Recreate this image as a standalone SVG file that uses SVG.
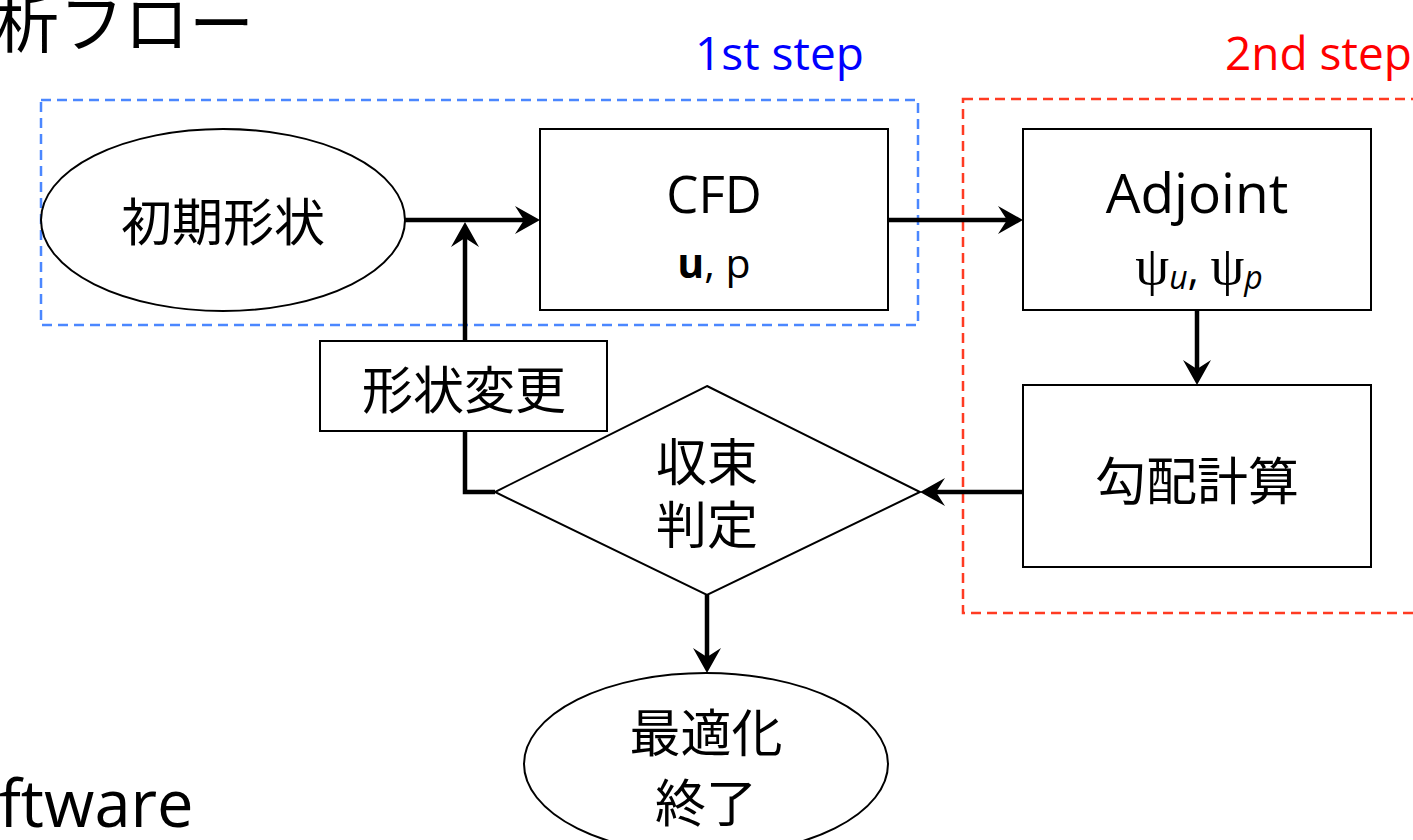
<svg xmlns="http://www.w3.org/2000/svg" width="1413" height="840" viewBox="0 0 1413 840">
<style>
.shape{fill:#fff;stroke:#000;stroke-width:2}
.conn{fill:none;stroke:#000;stroke-width:4.5}
.jp{font-family:"Noto Sans CJK JP","Noto Sans",sans-serif;font-size:51px;fill:#000;text-anchor:middle}
.lat{font-family:"Open Sans","Liberation Sans",sans-serif;fill:#000}
.frame{fill:none;stroke-width:2.5;stroke-dasharray:10 6}
</style>
<defs>
<marker id="ah" markerUnits="userSpaceOnUse" markerWidth="28" markerHeight="30" refX="9" refY="14" orient="auto" overflow="visible">
<path d="M0,0 L25,14 L0,28 L9,14 Z" fill="#000"/>
</marker>
</defs>
<rect width="1413" height="840" fill="#fff"/>
<g id="title">
<text x="-6" y="47" font-family="Noto Sans CJK JP, sans-serif" font-size="65" fill="#000">析フロー</text>
</g>
<g id="footer">
<text class="lat" x="-1" y="827" font-size="65">ftware</text>
</g>
<g id="step1">
<rect class="frame" x="41" y="100" width="877" height="225" stroke="#4B87FF"/>
<text class="lat" x="695" y="70" font-size="46" style="fill:#0000FF">1st step</text>
</g>
<g id="step2">
<rect class="frame" x="963" y="99" width="480" height="514" stroke="#FF3B22"/>
<text class="lat" x="1225" y="70" font-size="46" style="fill:#FF0000">2nd step</text>
</g>
<g id="connectors">
<line class="conn" x1="405" y1="220" x2="524" y2="220" marker-end="url(#ah)"/>
<line class="conn" x1="465" y1="341" x2="465" y2="238" marker-end="url(#ah)"/>
<line class="conn" x1="888" y1="220" x2="1007" y2="220" marker-end="url(#ah)"/>
<line class="conn" x1="1197" y1="310" x2="1197" y2="369" marker-end="url(#ah)"/>
<line class="conn" x1="1023" y1="492" x2="936" y2="492" marker-end="url(#ah)"/>
<line class="conn" x1="707" y1="595" x2="707" y2="657" marker-end="url(#ah)"/>
<polyline class="conn" points="465,431 465,492 495,492"/>
</g>
<g id="initial">
<ellipse class="shape" cx="223" cy="220" rx="182" ry="91"/>
<text class="jp" x="223" y="241">初期形状</text>
</g>
<g id="cfd">
<rect class="shape" x="540" y="129" width="348" height="181"/>
<text class="lat" x="714" y="213" font-size="51" text-anchor="middle">CFD</text>
<text class="lat" x="714" y="278" font-size="41" text-anchor="middle"><tspan font-weight="bold">u</tspan>, p</text>
</g>
<g id="adjoint">
<rect class="shape" x="1023" y="129" width="348" height="181"/>
<text class="lat" x="1197" y="213" font-size="55" text-anchor="middle">Adjoint</text>
<text class="lat" x="1199" y="284" font-size="44" text-anchor="middle"><tspan font-family="Liberation Serif, serif" font-size="54">ψ</tspan><tspan font-size="32" font-style="italic" dy="5">u</tspan><tspan dy="-5">, </tspan><tspan font-family="Liberation Serif, serif" font-size="54">ψ</tspan><tspan font-size="32" font-style="italic" dy="5">p</tspan></text>
</g>
<g id="gradient">
<rect class="shape" x="1023" y="385" width="348" height="182"/>
<text class="jp" x="1197" y="500">勾配計算</text>
</g>
<g id="shapechange">
<rect class="shape" x="320" y="341" width="287" height="90"/>
<text class="jp" x="464" y="409">形状変更</text>
</g>
<g id="convergence">
<polygon class="shape" points="707,386 920,492 707,595 495,492"/>
<text class="jp" x="707" y="481">収束</text>
<text class="jp" x="707" y="544">判定</text>
</g>
<g id="end">
<ellipse class="shape" cx="706" cy="764" rx="182" ry="91"/>
<text class="jp" x="706" y="752">最適化</text>
<text class="jp" x="706" y="822">終了</text>
</g>
</svg>
